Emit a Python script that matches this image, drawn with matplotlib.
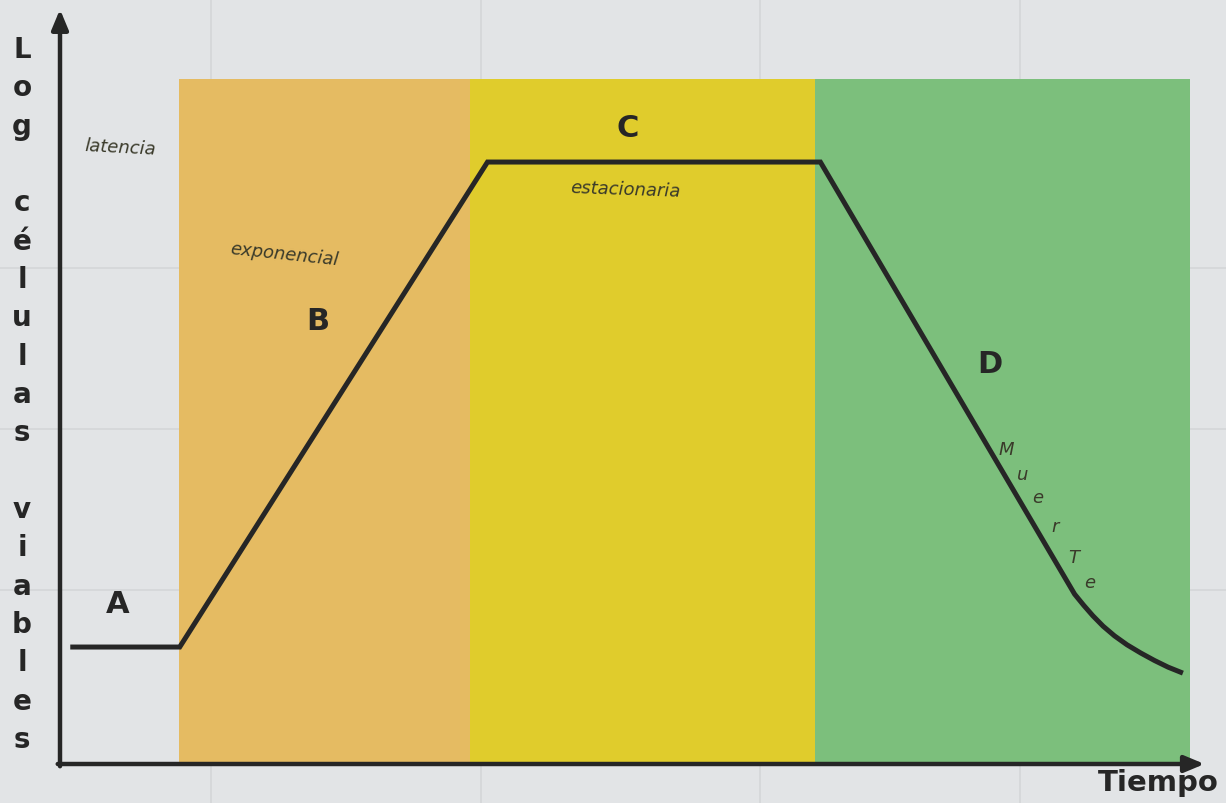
import matplotlib.pyplot as plt

# phase curve (time, log viable cells)
curve_t = [0.09, 1.05, 3.75, 6.67, 8.90, 8.98, 9.06, 9.15, 9.25, 9.36,
           9.48, 9.60, 9.72, 9.85]
curve_y = [1.57, 1.57, 8.08, 8.08, 2.28, 2.13, 1.99, 1.85, 1.72, 1.60,
           1.49, 1.39, 1.30, 1.22]

# coloured phase bands
band_start = [1.04, 3.60, 6.62]
band_end = [3.60, 6.62, 9.91]
band_top = 9.2
band_colors = ['#e5bb62', '#e0cc2c', '#7cbf7c']

phase_letters = ['A', 'B', 'C', 'D']
letter_t = [0.51, 2.26, 4.98, 8.16]
letter_y = [2.15, 5.95, 8.55, 5.37]

notes = ['latencia', 'exponencial', 'estacionaria']
note_t = [0.53, 1.97, 4.96]
note_y = [8.28, 6.85, 7.72]
note_rot = [-3, -6, -2]

death_letters = ['M', 'u', 'e', 'r', 'T', 'e']
death_t = [8.30, 8.44, 8.58, 8.73, 8.89, 9.03]
death_y = [4.23, 3.89, 3.58, 3.19, 2.78, 2.44]

ylabel = 'Log células viables'
xlabel = 'Tiempo'

ink = '#262626'
pen = '#3a3a2a'

fig = plt.figure(figsize=(12.26, 8.04), dpi=100)
fig.patch.set_facecolor('#e2e4e6')

# faint notebook grid behind the page
for xf in [0.172, 0.392, 0.62, 0.832]:
    fig.add_artist(plt.Line2D([xf, xf], [0, 1], color='#d4d6d8', lw=1.2, zorder=0))
for yf in [0.665, 0.465, 0.265]:
    fig.add_artist(plt.Line2D([0, 1], [yf, yf], color='#d4d6d8', lw=1.2, zorder=0))

ax = fig.add_axes([60 / 1226, 1 - 765 / 804, 1140 / 1226, 745 / 804])
ax.set_xlim(0, 10)
ax.set_ylim(0, 10)
ax.axis('off')

for x0, x1, c in zip(band_start, band_end, band_colors):
    ax.axvspan(x0, x1, ymin=0, ymax=band_top / 10, color=c, lw=0, zorder=1)

ax.plot(curve_t, curve_y, color=ink, lw=3.6, solid_joinstyle='miter',
        solid_capstyle='butt', zorder=3)

# axes arrows
arrow = dict(arrowstyle='-|>,head_length=1.2,head_width=0.5', color=ink, lw=3.2,
             shrinkA=0, shrinkB=0)
ax.annotate('', xy=(0, 10.13), xytext=(0, -0.03), arrowprops=arrow,
            annotation_clip=False, zorder=4)
ax.annotate('', xy=(10.04, 0), xytext=(-0.02, 0), arrowprops=arrow,
            annotation_clip=False, zorder=4)

for s, t, y in zip(phase_letters, letter_t, letter_y):
    ax.text(t, y, s, fontsize=22, fontweight='heavy', color=ink,
            ha='center', va='center', zorder=5)

for s, t, y, r in zip(notes, note_t, note_y, note_rot):
    ax.text(t, y, s, fontsize=13, style='italic', fontweight='light',
            color=pen, ha='center', va='center', rotation=r, zorder=5)

for s, t, y in zip(death_letters, death_t, death_y):
    ax.text(t, y, s, fontsize=13, style='italic', color=pen,
            ha='center', va='center', zorder=5)

# stacked vertical y label
chars = list(ylabel)
n = len(chars)
for i, ch in enumerate(chars):
    yf = 1 - (50 + i * (690 / (n - 1))) / 804
    fig.text(22 / 1226, yf, ch, fontsize=20, fontweight='heavy', color=ink,
             ha='center', va='center')

fig.text(1158 / 1226, 1 - 783 / 804, xlabel, fontsize=21, fontweight='heavy',
         color=ink, ha='center', va='center')

fig.savefig('out.png', dpi=100, facecolor=fig.get_facecolor())
